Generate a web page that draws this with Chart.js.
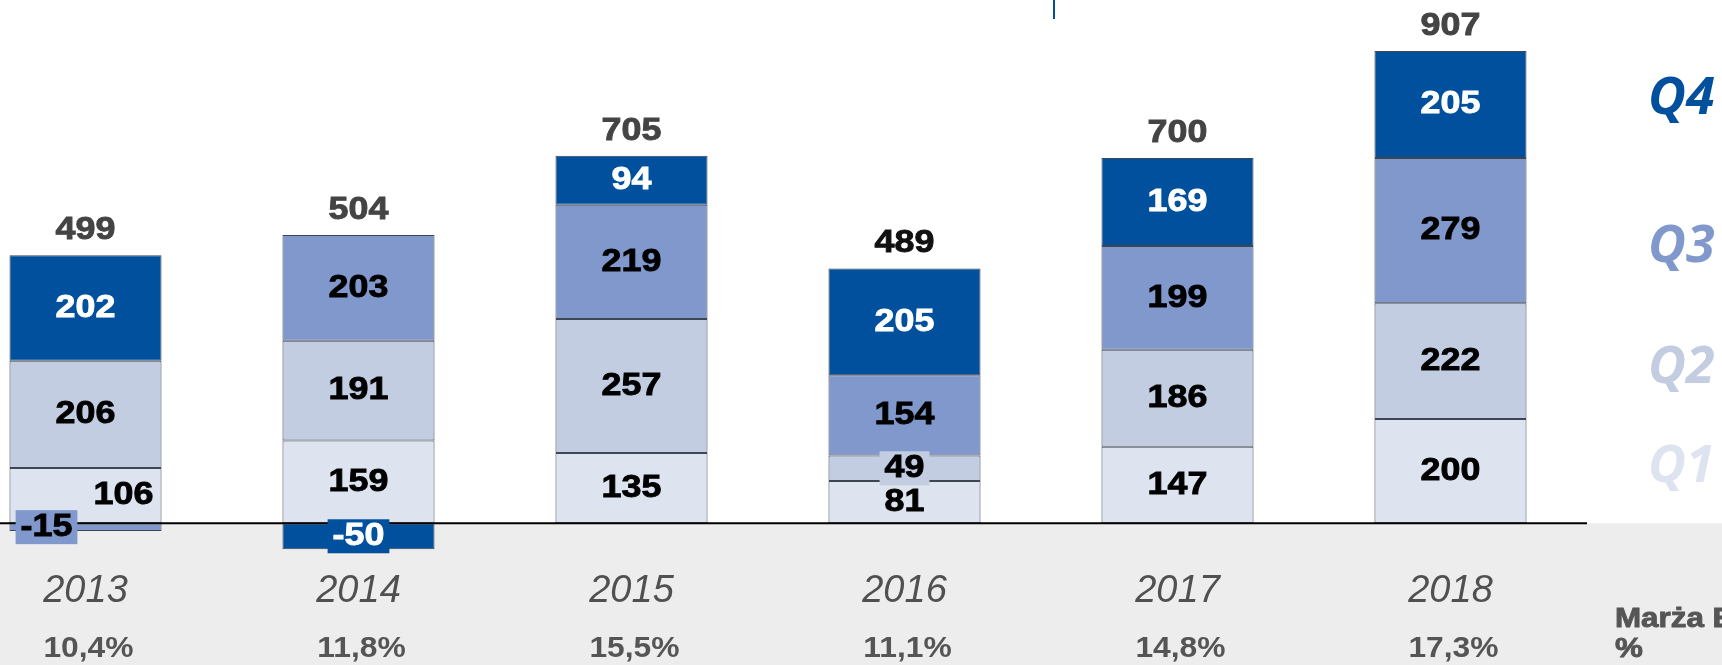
<!DOCTYPE html>
<html>
<head>
<meta charset="utf-8">
<script src="https://cdn.jsdelivr.net/npm/chart.js@4.4.0/dist/chart.umd.min.js"></script>
<style>
html, body { margin: 0; padding: 0; background: #fff; overflow: hidden; }
#wrap { position: absolute; left: -51px; top: 0; width: 1773px; height: 665px; }
</style>
</head>
<body>
<div id="wrap"><canvas id="ebitChart"></canvas></div>
<script>
const years = ['2013', '2014', '2015', '2016', '2017', '2018'];
const q1 = [106, 159, 135, 81, 147, 200];
const q2 = [206, 191, 257, 49, 186, 222];
const q3 = [-15, 203, 219, 154, 199, 279];
const q4 = [202, -50, 94, 205, 169, 205];
const totals = [499, 504, 705, 489, 700, 907];
const margins = ['10,4%', '11,8%', '15,5%', '11,1%', '14,8%', '17,3%'];
const quarterNames = ['Q1', 'Q2', 'Q3', 'Q4'];

const colors = ['#dee4ef', '#c3cde1', '#8098cc', '#00509e'];
const labelColors = ['#000', '#000', '#000', '#fff'];
const totalColors = ['#444', '#444', '#444', '#111', '#444', '#444'];

// canvas sits 51px left of the page so the first bar lands where it should
const SHIFT = 51;
const px = x => x + SHIFT;

// a couple of crowded labels in 2013 get pushed sideways
const labelNudge = { '0,0': 38, '2,0': -39 };

const segFont = 'bold 32px "Liberation Sans", Arial, sans-serif';

// the original text is a little wider and heavier than plain Arial bold
function wideText(ctx, txt, x, y, color, align) {
    ctx.save();
    ctx.translate(x, y);
    ctx.scale(1.12, 1);
    ctx.fillStyle = color;
    ctx.strokeStyle = color;
    ctx.lineWidth = 0.9;
    ctx.textAlign = align || 'center';
    ctx.textBaseline = align ? 'alphabetic' : 'middle';
    ctx.fillText(txt, 0, 0);
    ctx.strokeText(txt, 0, 0);
    ctx.restore();
}

const decor = {
    id: 'decor',
    beforeDatasetsDraw(chart) {
        const { ctx, width, height } = chart;
        const zero = chart.scales.y.getPixelForValue(0);
        ctx.save();
        ctx.fillStyle = '#ededed';
        ctx.fillRect(0, zero, width, height - zero);
        // small blue tick at the top
        ctx.fillStyle = '#00509e';
        ctx.fillRect(px(1053), 0, 2, 19);
        ctx.restore();
    },
    afterDatasetsDraw(chart) {
        const { ctx, chartArea } = chart;
        const zero = chart.scales.y.getPixelForValue(0);
        ctx.save();

        ctx.strokeStyle = '#000';
        ctx.lineWidth = 2;
        ctx.beginPath();
        ctx.moveTo(0, zero);
        ctx.lineTo(chartArea.right, zero);
        ctx.stroke();

        ctx.font = segFont;
        chart.data.datasets.forEach((ds, di) => {
            chart.getDatasetMeta(di).data.forEach((bar, i) => {
                const v = ds.data[i];
                const h = Math.abs(bar.base - bar.y);
                const cx = bar.x + (labelNudge[di + ',' + i] || 0);
                const cy = (bar.y + bar.base) / 2;
                const txt = String(v);
                if (v < 0 || h < 30) {
                    const w = ctx.measureText(txt).width * 1.12 + 10;
                    ctx.fillStyle = colors[di];
                    ctx.fillRect(cx - w / 2, cy - 17, w, 34);
                }
                wideText(ctx, txt, cx, cy, labelColors[di]);
            });
        });

        // totals above each stack
        years.forEach((y, i) => {
            let top = Infinity, x = 0;
            chart.data.datasets.forEach((ds, di) => {
                const bar = chart.getDatasetMeta(di).data[i];
                top = Math.min(top, bar.y, bar.base);
                x = bar.x;
            });
            wideText(ctx, String(totals[i]), x, top - 25, totalColors[i]);
        });

        // years and margins under the axis
        const xs = chart.scales.x;
        years.forEach((y, i) => {
            const x = xs.getPixelForValue(i);
            ctx.fillStyle = '#505050';
            ctx.textAlign = 'center';
            ctx.textBaseline = 'middle';
            ctx.font = 'italic 38px "Liberation Sans", Arial, sans-serif';
            ctx.fillText(y, x, 591);
            ctx.font = 'bold 30px "Liberation Sans", Arial, sans-serif';
            ctx.save();
            ctx.translate(x + 3, 649);
            ctx.scale(1.06, 1);
            ctx.fillStyle = '#555';
            ctx.fillText(margins[i], 0, 0);
            ctx.restore();
        });

        // quarter legend on the right
        const qBase = [482, 383, 262, 114];
        ctx.font = 'italic bold 52px "Open Sans", sans-serif';
        ctx.textAlign = 'left';
        ctx.textBaseline = 'alphabetic';
        quarterNames.forEach((q, qi) => {
            ctx.fillStyle = colors[qi];
            ctx.fillText(q, px(1648), qBase[qi]);
        });

        ctx.font = 'bold 28px "Liberation Sans", Arial, sans-serif';
        wideText(ctx, 'Marża EBIT', px(1615), 627, '#555', 'left');
        wideText(ctx, '%', px(1615), 657, '#555', 'left');

        ctx.restore();
    }
};

const ctx = document.getElementById('ebitChart').getContext('2d');
const ebitChart = new Chart(ctx, {
    type: 'bar',
    data: {
        labels: years,
        datasets: [q1, q2, q3, q4].map((vals, qi) => ({
            label: quarterNames[qi],
            data: vals,
            backgroundColor: colors[qi],
            borderColor: '#3d4653',
            borderWidth: 1,
            borderSkipped: false
        }))
    },
    options: {
        responsive: true,
        maintainAspectRatio: false,
        animation: false,
        barPercentage: 0.557,
        categoryPercentage: 1.0,
        layout: {
            padding: { left: 0, right: 135, top: 0, bottom: 0 }
        },
        scales: {
            x: {
                stacked: true,
                display: false
            },
            y: {
                stacked: true,
                display: false,
                min: -272,
                max: 1004
            }
        },
        plugins: {
            legend: { display: false },
            tooltip: { enabled: false }
        }
    },
    plugins: [decor]
});
</script>
</body>
</html>
